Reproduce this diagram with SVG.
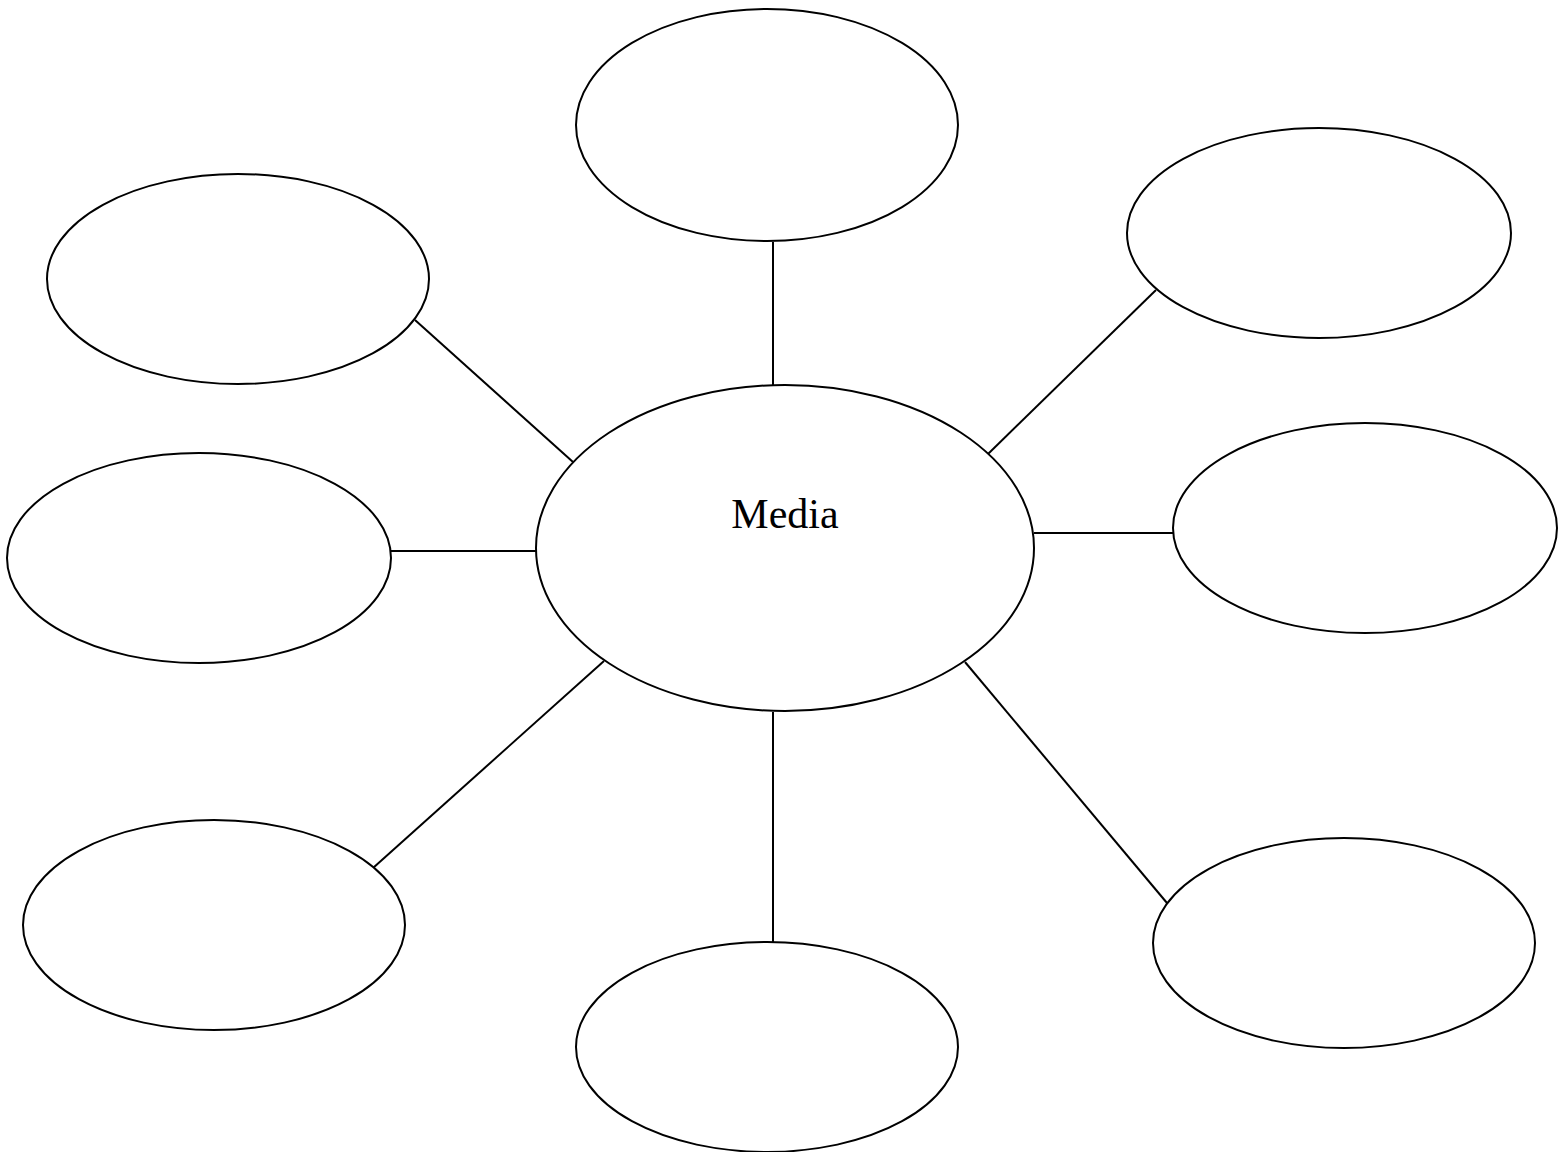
<svg xmlns="http://www.w3.org/2000/svg" width="1562" height="1152" viewBox="0 0 1562 1152">
<style>
.n{fill:#fff;stroke:#000;stroke-width:2}
.c{stroke:#000;stroke-width:2;fill:none}
.t{font-family:"Liberation Serif","Times New Roman",serif;font-size:42px;fill:#000}
</style>
<rect width="1562" height="1152" fill="#fff"/>
<g id="connectors">
<line class="c" x1="773" y1="242" x2="773" y2="385"/>
<line class="c" x1="415" y1="320" x2="573" y2="462"/>
<line class="c" x1="391" y1="551" x2="536" y2="551"/>
<line class="c" x1="373" y1="868" x2="604" y2="661"/>
<line class="c" x1="773" y1="712" x2="773" y2="942"/>
<line class="c" x1="965" y1="662" x2="1167" y2="903"/>
<line class="c" x1="1034" y1="533" x2="1173" y2="533"/>
<line class="c" x1="988" y1="454" x2="1156" y2="290"/>
</g>
<g id="center"><ellipse class="n" cx="785" cy="548" rx="249" ry="163"/><text class="t" x="785" y="528" text-anchor="middle">Media</text></g>
<g id="top"><ellipse class="n" cx="767" cy="125" rx="191" ry="116"/></g>
<g id="topleft"><ellipse class="n" cx="238" cy="279" rx="191" ry="105"/></g>
<g id="left"><ellipse class="n" cx="199" cy="558" rx="192" ry="105"/></g>
<g id="bottomleft"><ellipse class="n" cx="214" cy="925" rx="191" ry="105"/></g>
<g id="bottom"><ellipse class="n" cx="767" cy="1047" rx="191" ry="105"/></g>
<g id="bottomright"><ellipse class="n" cx="1344" cy="943" rx="191" ry="105"/></g>
<g id="right"><ellipse class="n" cx="1365" cy="528" rx="192" ry="105"/></g>
<g id="topright"><ellipse class="n" cx="1319" cy="233" rx="192" ry="105"/></g>
</svg>
